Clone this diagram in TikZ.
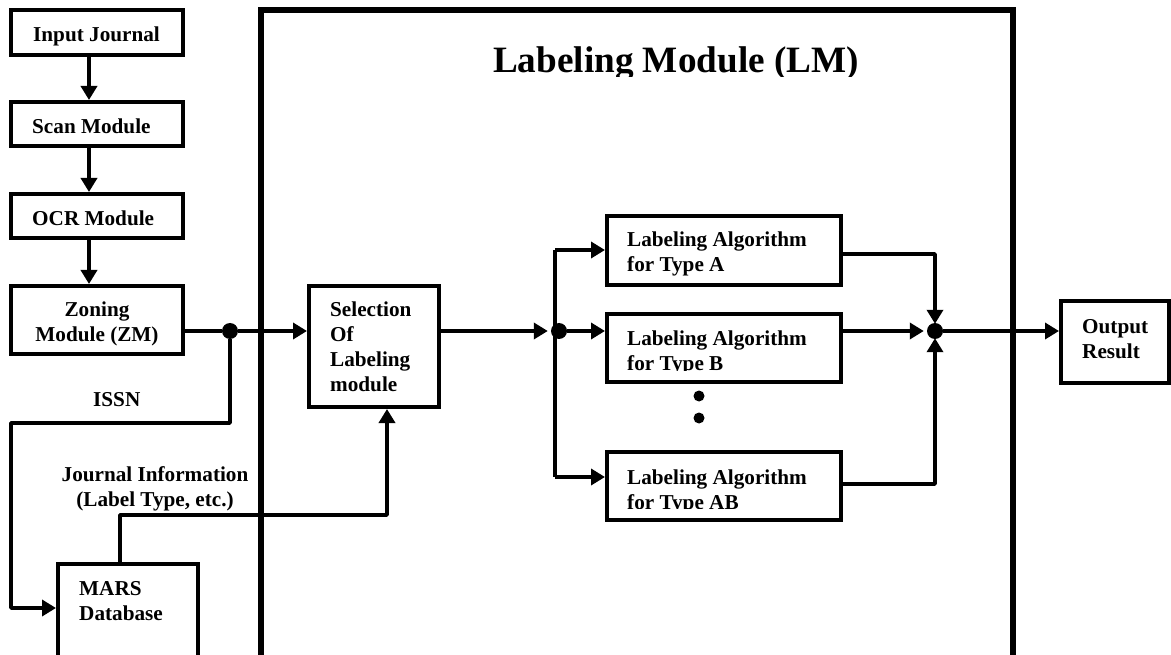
\documentclass[tikz,border=0pt]{standalone}
\usepackage{fontspec}
\setmainfont{Liberation Serif}
\usetikzlibrary{arrows.meta}
\tikzset{
  x=1pt,y=-1pt,
  box/.style={draw=black,line width=4pt,inner sep=0pt,fill=white},
  bigbox/.style={draw=black,line width=6pt,inner sep=0pt},
  txt/.style={inner sep=0pt,anchor=west,align=left,font=\fontsize{21.2}{25}\selectfont\bfseries,text=black},
  ctxt/.style={txt,anchor=center,align=center},
  conn/.style={draw=black,line width=3.5pt,line join=round},
  arr/.style={conn,-{Triangle[length=14pt,width=16pt]}},
  dot/.style={circle,fill=black,inner sep=0pt,minimum size=#1},
  dot/.default=16pt
}
\begin{document}
\begin{tikzpicture}
\useasboundingbox (0,0) rectangle (1171,655);
\fill[white] (0,0) rectangle (1171,655);
\clip (0,0) rectangle (1171,655);
% frame
\node[bigbox,minimum width=752,minimum height=690] (lm) at (637,355) {};
% boxes
\node[box,minimum width=172,minimum height=45] (ij) at (97,32.5) {};
\node[box,minimum width=172,minimum height=44] (scan) at (97,124) {};
\node[box,minimum width=172,minimum height=44] (ocr) at (97,216) {};
\node[box,minimum width=172,minimum height=68] (zm) at (97,320) {};
\node[box,minimum width=130,minimum height=121] (sel) at (374,346.5) {};
\node[box,minimum width=140,minimum height=136] (mars) at (128,632) {};
\node[box,minimum width=234,minimum height=69] (ta) at (724,250.5) {};
\node[box,minimum width=234,minimum height=68] (tb) at (724,348) {};
\node[box,minimum width=234,minimum height=68] (tab) at (724,486) {};
\node[box,minimum width=108,minimum height=82] (out) at (1115,342) {};
% junctions
\node[dot] (j1) at (230,331) {};
\node[dot] (j2) at (559,331) {};
\node[dot] (j3) at (935,331) {};
\node[dot=11pt] (d1) at (699,396) {};
\node[dot=11pt] (d2) at (699,418) {};
\coordinate (c0) at (89,0);
\coordinate (c1) at (11,423);
\coordinate (c2) at (11,608);
\coordinate (c3) at (120,515);
\coordinate (c4) at (387,515);
\coordinate (c5) at (555,250);
\coordinate (c6) at (555,477);
\coordinate (c7) at (935,254);
\coordinate (c8) at (935,484);
% connectors
\draw[arr] (ij.south -| c0) -- (scan.north -| c0);
\draw[arr] (scan.south -| c0) -- (ocr.north -| c0);
\draw[arr] (ocr.south -| c0) -- (zm.north -| c0);
\draw[conn] (zm.east |- j1) -- (j1);
\draw[arr] (j1) -- (sel.west |- j1);
\draw[arr] (j1) |- (c1) -- (c2) -- (mars.west |- c2);
\draw[arr] (c3 |- mars.north) -- (c3) -- (c4) -- (c4 |- sel.south);
\draw[arr,shorten >=3pt] (sel.east |- j2) -- (j2);
\draw[conn] (c5) -- (c6);
\draw[arr] (c5) -- (ta.west |- c5);
\draw[arr] (j2) -- (tb.west |- j2);
\draw[arr] (c6) -- (tab.west |- c6);
\draw[arr,shorten >=-1pt] (ta.east |- c7) -- (c7) -- (j3.north);
\draw[arr,shorten >=3pt] (tb.east |- j3) -- (j3);
\draw[arr,shorten >=-1pt] (tab.east |- c8) -- (c8) -- (j3.south);
\draw[arr] (j3) -- (out.west |- j3);
% texts
\node[txt] (tij) at (33,36) {Input Journal};
\node[txt] (tscan) at (32,126) {Scan Module};
\node[txt] (tocr) at (32,218) {OCR Module};
\node[ctxt] (tzm) at (97,324) {Zoning\\Module (ZM)};
\node[txt] (tsel) at (330,347) {Selection\\Of\\Labeling\\module};
\node[txt] (tmars) at (79,601) {MARS\\Database};
\node[txt] (tissn) at (93,400) {ISSN};
\node[ctxt] (tji) at (155,489) {Journal Information\\(Label Type, etc.)};
\node[txt] (tta) at (627,254) {Labeling Algorithm\\for Type A};
\node[txt] (tout) at (1082,339) {Output\\Result};
\begin{scope}
\clip (600,320) rectangle (840,370);
\node[txt] (ttb) at (627,353) {Labeling Algorithm\\for Type B};
\end{scope}
\begin{scope}
\clip (600,460) rectangle (840,508);
\node[txt] (ttab) at (627,491.5) {Labeling Algorithm\\for Type AB};
\end{scope}
\begin{scope}
\clip (400,30) rectangle (950,77);
\node[ctxt,font=\fontsize{37.2}{42}\selectfont\bfseries] (title) at (676,63.5) {Labeling Module (LM)};
\end{scope}
\end{tikzpicture}
\end{document}
